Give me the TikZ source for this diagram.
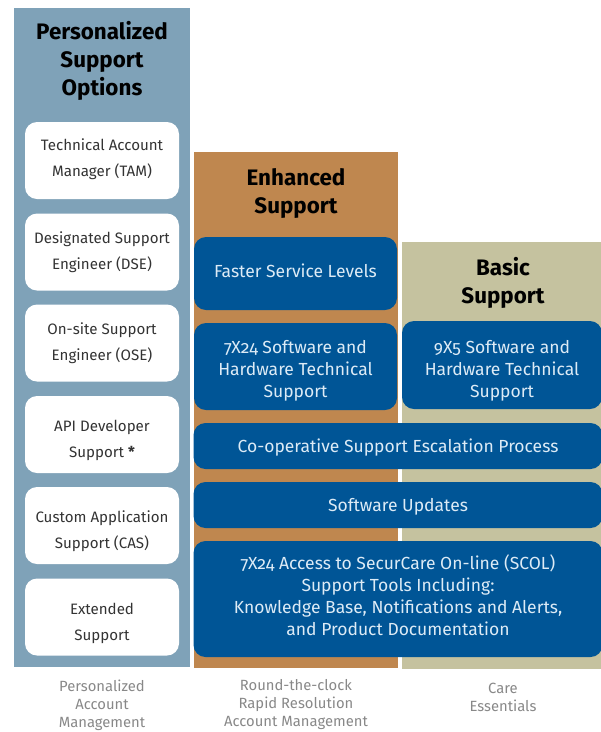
\documentclass[tikz,border=0pt]{standalone}
\usepackage{fontspec}
\setmainfont{Fira Sans}[Numbers=OldStyle]
\definecolor{persbg}{HTML}{7FA2B8}
\definecolor{enhbg}{HTML}{BF874F}
\definecolor{basbg}{HTML}{C5C29F}
\definecolor{boxblue}{HTML}{005596}
\definecolor{boxtext}{HTML}{DDEBF6}
\definecolor{capgray}{HTML}{888888}
\tikzset{
  option/.style={fill=white, rounded corners=12pt, minimum width=154pt, minimum height=77pt, inner sep=0pt},
  optext/.style={align=center, text=black!80, font=\fontsize{15.1}{26}\selectfont, inner sep=0pt},
  feature/.style={fill=boxblue, rounded corners=12pt, inner sep=0pt},
  featext/.style={align=center, text=boxtext, font=\fontsize{17.5}{22}\selectfont, inner sep=0pt},
  heading/.style={align=center, font=\fontsize{22.4}{28}\selectfont\bfseries, text=black},
  caption/.style={align=center, font=\fontsize{14.8}{18}\selectfont, text=capgray}
}
\begin{document}
\begin{tikzpicture}[x=1pt,y=-1pt]
    \useasboundingbox (0,0) rectangle (601,732);
    % column backgrounds
    \fill[persbg] (14,8) rectangle (190,667);
    \fill[enhbg] (194,152) rectangle (398,668);
    \fill[basbg] (402,242) rectangle (601,669);
    % personalized options
    \node[heading] (pers) at (102,61) {Personalized\\Support\\Options};
    \node[option] (tam) at (102,160.5) {};
    \node[optext] at ([yshift=1pt]tam.center) {Technical Account\\Manager (TAM)};
    \node[option] (dse) at (102,252) {};
    \node[optext] at (dse.center) {Designated Support\\Engineer (DSE)};
    \node[option] (ose) at (102,343) {};
    \node[optext] at (ose.center) {On-site Support\\Engineer (OSE)};
    \node[option] (api) at (102,434.5) {};
    \node[optext] at ([yshift=-6pt]api.center) {API Developer\\Support \textbf{*}};
    \node[option] (cas) at (102,525.5) {};
    \node[optext] at ([yshift=-6pt]cas.center) {Custom Application\\Support (CAS)};
    \node[option] (ext) at (102,617) {};
    \node[optext] at ([yshift=-6.5pt]ext.center) {Extended\\Support};
    % enhanced and basic
    \node[heading] (enh) at (296,193) {Enhanced\\Support};
    \node[heading] (bas) at (503,283) {Basic\\Support};
    \node[feature, minimum width=203pt, minimum height=73pt] (fast) at (295.5,273.5) {};
    \node[featext] at ([yshift=3pt]fast.center) {Faster Service Levels};
    \node[feature, minimum width=203pt, minimum height=87pt] (full) at (295.5,366.5) {};
    \node[featext] at ([yshift=-4.5pt]full.center) {7X24 Software and\\Hardware Technical\\Support};
    \node[feature, minimum width=200pt, minimum height=88pt] (part) at (502,365) {};
    \node[featext] at ([yshift=-5.5pt]part.center) {9X5 Software and\\Hardware Technical\\Support};
    \node[feature, minimum width=409pt, minimum height=46pt] (coop) at (398,446) {};
    \node[featext] at ([yshift=-2pt]coop.center) {Co-operative Support Escalation Process};
    \node[feature, minimum width=409pt, minimum height=46pt] (upd) at (398,505) {};
    \node[featext] at ([yshift=-2pt]upd.center) {Software Updates};
    \node[feature, minimum width=409pt, minimum height=116pt] (scol) at (398,599) {};
    \node[featext] at ([yshift=4pt]scol.center) {7X24 Access to SecurCare On-line (SCOL)\\Support Tools Including:\\Knowledge Base, Notifications and Alerts,\\and Product Documentation};
    % captions
    \node[caption] (cap1) at (102,705) {Personalized\\Account\\Management};
    \node[caption] (cap2) at (296,705) {Round-the-clock\\Rapid Resolution\\Account Management};
    \node[caption] (cap3) at (503,697) {Care\\Essentials};
\end{tikzpicture}
\end{document}
